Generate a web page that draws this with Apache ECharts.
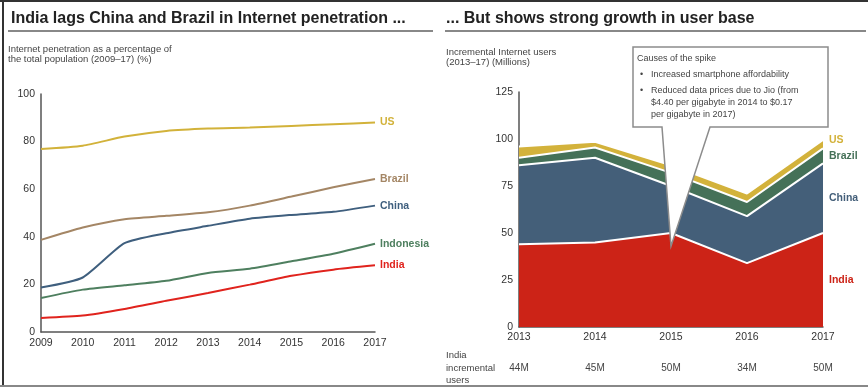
<!DOCTYPE html>
<html>
<head>
<meta charset="utf-8">
<script src="https://cdn.jsdelivr.net/npm/echarts@6/dist/echarts.min.js"></script>
<style>
  html, body { margin: 0; padding: 0; background: #fff; }
  #chart { width: 868px; height: 389px; }
</style>
</head>
<body>
<div id="chart"></div>
<script>
// left panel: internet penetration (%)
const penYears = ['2009', '2010', '2011', '2012', '2013', '2014', '2015', '2016', '2017'];
const usPen = [76.9, 78.3, 82.1, 84.5, 85.5, 85.9, 86.6, 87.3, 88];
const brazilPen = [38.7, 43.9, 47.4, 48.8, 50.3, 53.1, 56.9, 60.8, 64.3];
const chinaPen = [18.7, 22.9, 37.3, 41.5, 44.6, 47.6, 49.2, 50.5, 53.1];
const indonesiaPen = [14.3, 17.8, 19.6, 21.5, 24.8, 26.6, 29.7, 32.9, 37.1];
const indiaPen = [5.9, 6.9, 9.7, 13.1, 16.4, 19.9, 23.6, 26.2, 28];

// right panel: incremental users (millions)
const userYears = ['2013', '2014', '2015', '2016', '2017'];
const indiaUsers = [44, 45, 50, 34, 50];
const chinaUsers = [42, 45, 25, 25, 37];
const brazilUsers = [4, 5.5, 7, 7.5, 8];
const usUsers = [6, 3, 4, 4.5, 4.5];
const indiaUserLabels = ['44M', '45M', '50M', '34M', '50M'];

const calloutLines = [
  'Causes of the spike',
  'Increased smartphone affordability',
  'Reduced data prices due to Jio (from',
  '$4.40 per gigabyte in 2014 to $0.17',
  'per gigabyte in 2017)'
];

const FONT = '"Liberation Sans", Arial, sans-serif';
const colors = {
  us: '#d2b23a', brazil: '#a48665', china: '#3f5f7e', indonesia: '#4e7f5f', india: '#e0231d'
};
const areaColors = { india: '#cc2317', china: '#445f79', brazil: '#457158', us: '#d3b23b' };

const chart = echarts.init(document.getElementById('chart'), null, { renderer: 'canvas' });

function penLine(name, data, color) {
  return {
    name: name, type: 'line', xAxisIndex: 0, yAxisIndex: 0, data: data,
    smooth: 0.2, symbol: 'none', lineStyle: { color: color, width: 2 },
    endLabel: { show: true, formatter: name, color: color, fontWeight: 'bold',
      fontSize: 10.5, fontFamily: FONT, distance: 5 }
  };
}

function userArea(name, data, color) {
  return {
    name: name, type: 'line', xAxisIndex: 1, yAxisIndex: 1, stack: 'users', data: data,
    symbol: 'none', lineStyle: { color: '#fff', width: 2 },
    areaStyle: { color: color, opacity: 1 }, itemStyle: { color: color }
  };
}

const axisLabel = { color: '#333', fontSize: 10.5, fontFamily: FONT };

chart.setOption({
  animation: false,
  textStyle: { fontFamily: FONT },
  title: [
    { text: 'India lags China and Brazil in Internet penetration ...', left: 11, top: 11, padding: 0,
      textStyle: { fontSize: 16, fontWeight: 'bold', color: '#222', fontFamily: FONT } },
    { text: '... But shows strong growth in user base', left: 446, top: 11, padding: 0,
      textStyle: { fontSize: 16, fontWeight: 'bold', color: '#222', fontFamily: FONT } },
    { text: 'Internet penetration as a percentage of\nthe total population (2009\u201317) (%)', left: 8, top: 44, padding: 0,
      textStyle: { fontSize: 9.5, lineHeight: 10.5, fontWeight: 'normal', color: '#444', fontFamily: FONT } },
    { text: 'Incremental Internet users\n(2013\u201317) (Millions)', left: 446, top: 47, padding: 0,
      textStyle: { fontSize: 9.5, lineHeight: 10.5, fontWeight: 'normal', color: '#444', fontFamily: FONT } }
  ],
  grid: [
    { left: 41, right: 493, top: 94, bottom: 57 },
    { left: 519, right: 45, top: 92, bottom: 62 }
  ],
  xAxis: [
    { gridIndex: 0, type: 'category', data: penYears, boundaryGap: false,
      axisLine: { lineStyle: { color: '#555', width: 1.5 } }, axisTick: { show: false },
      axisLabel: Object.assign({ margin: 6 }, axisLabel) },
    { gridIndex: 1, type: 'category', data: userYears, boundaryGap: false,
      axisLine: { lineStyle: { color: '#555', width: 1.5 } }, axisTick: { show: false },
      axisLabel: Object.assign({ margin: 5 }, axisLabel) },
    { gridIndex: 1, type: 'category', data: userYears, boundaryGap: false, position: 'bottom', offset: 31,
      axisLine: { show: false }, axisTick: { show: false },
      axisLabel: { margin: 5, color: '#444', fontSize: 10, fontFamily: FONT,
        formatter: function (v, i) { return indiaUserLabels[i]; } } }
  ],
  yAxis: [
    { gridIndex: 0, type: 'value', min: 0, max: 100, interval: 20, splitLine: { show: false },
      axisLine: { show: true, lineStyle: { color: '#555', width: 1.5 } }, axisTick: { show: false },
      axisLabel: Object.assign({ margin: 6 }, axisLabel) },
    { gridIndex: 1, type: 'value', min: 0, max: 125, interval: 25, splitLine: { show: false },
      axisLine: { show: true, lineStyle: { color: '#555', width: 1.5 } }, axisTick: { show: false },
      axisLabel: Object.assign({ margin: 6 }, axisLabel) }
  ],
  series: [
    penLine('US', usPen, colors.us),
    penLine('Brazil', brazilPen, colors.brazil),
    penLine('China', chinaPen, colors.china),
    penLine('Indonesia', indonesiaPen, colors.indonesia),
    penLine('India', indiaPen, colors.india),
    userArea('India', indiaUsers, areaColors.india),
    userArea('China', chinaUsers, areaColors.china),
    userArea('Brazil', brazilUsers, areaColors.brazil),
    userArea('US', usUsers, areaColors.us)
  ]
});

// labels / annotations placed from the data through the axes
const userSeries = [
  { name: 'India', data: indiaUsers, color: areaColors.india },
  { name: 'China', data: chinaUsers, color: areaColors.china },
  { name: 'Brazil', data: brazilUsers, color: areaColors.brazil },
  { name: 'US', data: usUsers, color: areaColors.us }
];
const last = userYears.length - 1;
let cum = 0;
const graphics = [];
userSeries.forEach(function (s, k) {
  const v = s.data[last];
  const mid = k === userSeries.length - 1 ? cum + v : cum + v / 2;
  cum += v;
  const p = chart.convertToPixel({ xAxisIndex: 1, yAxisIndex: 1 }, [last, mid]);
  graphics.push({ type: 'text', x: p[0] + 6, y: p[1], z: 10,
    style: { text: s.name, fill: s.color, font: 'bold 10.5px ' + FONT, verticalAlign: 'middle' } });
});

// callout box with pointer at the 2015 spike
const tip = chart.convertToPixel({ xAxisIndex: 1, yAxisIndex: 1 }, [2, 43]);
graphics.push({ type: 'polygon', z: 20,
  shape: { points: [[633, 47], [828, 47], [828, 127], [710, 127], tip, [662, 127], [633, 127]] },
  style: { fill: '#fff', stroke: '#8c8c8c', lineWidth: 1.5 } });
graphics.push({ type: 'text', x: 637, y: 59, z: 21,
  style: { text: calloutLines[0], fill: '#444', font: '9px ' + FONT, verticalAlign: 'middle' } });
graphics.push({ type: 'text', x: 640, y: 75, z: 21,
  style: { text: '\u2022', fill: '#444', font: '9px ' + FONT, verticalAlign: 'middle' } });
graphics.push({ type: 'text', x: 651, y: 75, z: 21,
  style: { text: calloutLines[1], fill: '#444', font: '9px ' + FONT, verticalAlign: 'middle' } });
graphics.push({ type: 'text', x: 640, y: 91, z: 21,
  style: { text: '\u2022', fill: '#444', font: '9px ' + FONT, verticalAlign: 'middle' } });
[2, 3, 4].forEach(function (i, j) {
  graphics.push({ type: 'text', x: 651, y: 91 + j * 12, z: 21,
    style: { text: calloutLines[i], fill: '#444', font: '9px ' + FONT, verticalAlign: 'middle' } });
});

// row caption under right chart
graphics.push({ type: 'text', x: 446, y: 368, z: 10,
  style: { text: 'India\nincremental\nusers', fill: '#444', font: '9.5px ' + FONT, lineHeight: 12.5, verticalAlign: 'middle' } });

// panel frame and title rules
graphics.push({ type: 'line', shape: { x1: 0, y1: 1, x2: 868, y2: 1 }, style: { stroke: '#333', lineWidth: 2 } });
graphics.push({ type: 'line', shape: { x1: 3, y1: 0, x2: 3, y2: 387 }, style: { stroke: '#333', lineWidth: 2 } });
graphics.push({ type: 'line', shape: { x1: 0, y1: 386, x2: 868, y2: 386 }, style: { stroke: '#888', lineWidth: 2 } });
graphics.push({ type: 'line', shape: { x1: 8, y1: 31, x2: 433, y2: 31 }, style: { stroke: '#888', lineWidth: 2 } });
graphics.push({ type: 'line', shape: { x1: 445, y1: 31, x2: 866, y2: 31 }, style: { stroke: '#888', lineWidth: 2 } });

chart.setOption({ graphic: graphics });
</script>
</body>
</html>
